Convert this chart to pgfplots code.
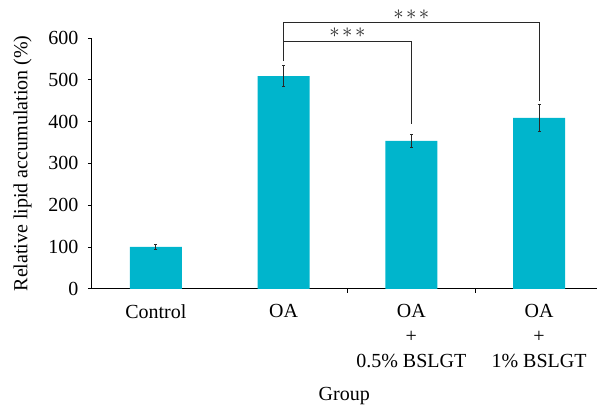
\documentclass[border=0pt]{standalone}
\usepackage{pgfplots}
\pgfplotsset{compat=1.18}
\usepackage{fontspec}
\setmainfont{Liberation Serif}
\definecolor{barc}{RGB}{0,181,204}
\definecolor{dk}{RGB}{40,40,40}
\begin{document}
\begin{tikzpicture}
\begin{axis}[
  scale only axis, width=505pt, height=251pt,
  xmin=-0.5, xmax=3.45, ymin=0, ymax=600,
  axis lines*=left,
  axis line style={black, line width=0.9pt},
  clip=false,
  font=\fontsize{20}{25}\selectfont,
  /pgf/number format/assume math mode=true,
  ytick={0,100,...,600},
  tick align=outside,
  major tick length=4pt,
  tick style={black, line width=0.8pt},
  xtick={0,1,2,3},
  xticklabels={Control, OA, {OA\\+\\0.5\% BSLGT}, {OA\\+\\1\% BSLGT}},
  xticklabel style={align=center, yshift=-8pt},
  xtick style={draw=none},
  extra x ticks={1.5,2.5},
  extra x tick labels={},
  extra x tick style={xtick style={draw=black}},
  yticklabel style={xshift=-6pt},
  ylabel={Relative lipid accumulation (\%)},
  ylabel style={yshift=10pt},
  xlabel={Group},
  xlabel style={yshift=-5pt},
]
\addplot[ybar, bar width=52pt, fill=barc, draw=none, bar shift=0pt,
  error bars/.cd, y dir=both, y explicit,
  error bar style={line width=1.1pt, dk},
  error mark options={rotate=90, mark size=1.5pt, line width=0.8pt, dk}]
  coordinates {(0,100) +- (0,5) (1,509) +- (0,26) (2,354) +- (0,15) (3,409) +- (0,33)};
\draw[dk, line width=1pt] (axis cs:1,545) -- (axis cs:1,636) -- (axis cs:3,636) -- (axis cs:3,450);
\draw[dk, line width=1pt] (axis cs:1,591) -- (axis cs:2,591) -- (axis cs:2,395);
\node[dk, inner sep=0pt, font=\fontsize{20}{20}\selectfont] at (axis cs:1.5,613) {${\ast}\hspace{2.5pt}{\ast}\hspace{2.5pt}{\ast}$};
\node[dk, inner sep=0pt, font=\fontsize{20}{20}\selectfont] at (axis cs:2,656) {${\ast}\hspace{2.5pt}{\ast}\hspace{2.5pt}{\ast}$};
\end{axis}
\path ([xshift=-92pt,yshift=-115pt]current axis.south west) rectangle ([yshift=38pt]current axis.north east);
\end{tikzpicture}
\end{document}
